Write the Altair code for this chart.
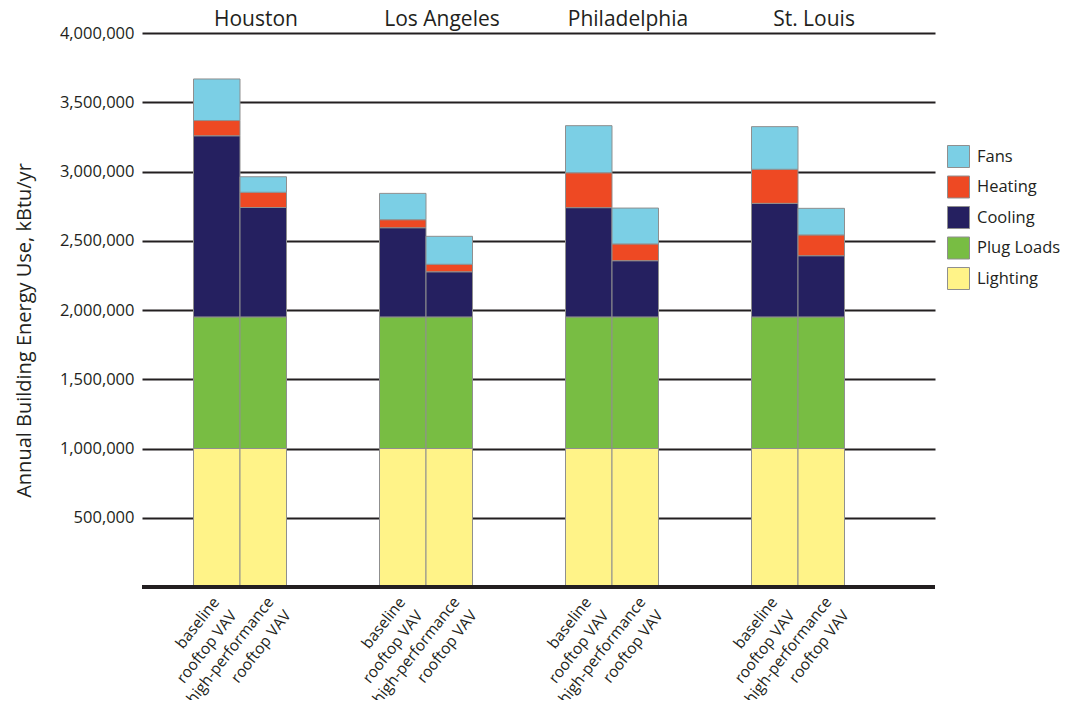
import altair as alt
import pandas as pd

cities = ["Houston", "Los Angeles", "Philadelphia", "St. Louis"]
configs = ["baseline", "high-performance"]
config_labels = ["baseline\nrooftop VAV", "high-performance\nrooftop VAV"]

categories = ["Fans", "Heating", "Cooling", "Plug Loads", "Lighting"]
colors = ["#7bcfe5", "#ee4923", "#252060", "#78bd43", "#fff388"]

# per bar, ordered: city x (baseline, high-performance)
lighting = [1000000, 1000000, 1000000, 1000000, 1000000, 1000000, 1000000, 1000000]
plug_loads = [950000, 950000, 950000, 950000, 950000, 950000, 950000, 950000]
cooling = [1308000, 790000, 644000, 326000, 789000, 406000, 820000, 442000]
heating = [110000, 110000, 58000, 54000, 252000, 121000, 246000, 150000]
fans = [300000, 112000, 190000, 202000, 340000, 259000, 308000, 192000]

series = {"Lighting": lighting, "Plug Loads": plug_loads, "Cooling": cooling,
          "Heating": heating, "Fans": fans}
stack_order = {"Lighting": 0, "Plug Loads": 1, "Cooling": 2, "Heating": 3, "Fans": 4}

rows = []
for cat, vals in series.items():
    i = 0
    for c in cities:
        for cf in configs:
            rows.append({"city": c, "config": cf, "category": cat,
                         "value": vals[i], "ord": stack_order[cat]})
            i += 1
df = pd.DataFrame(rows)

lab_rows = []
for c in cities:
    for cf, lab in zip(configs, config_labels):
        lab_rows.append({"city": c, "config": cf, "label": lab, "zero": 0})
labels_df = pd.DataFrame(lab_rows)

FONT = "Open Sans"
TXT = "#231f20"

x_enc = alt.X("city:N", sort=cities, title=None,
              scale=alt.Scale(paddingInner=0.5, paddingOuter=0.3817, align=0.3627),
              axis=alt.Axis(orient="top", ticks=False, domain=False, grid=False,
                            labelFontSize=21, labelFont=FONT, labelColor=TXT,
                            labelAngle=0, labelBaseline="alphabetic", labelPadding=8,
                            labelOffset=16))
xo_enc = alt.XOffset("config:N", sort=configs,
                     scale=alt.Scale(paddingInner=0, paddingOuter=0))

bars = alt.Chart(df).mark_bar(stroke="#8f8f8f", strokeWidth=1).encode(
    x=x_enc,
    xOffset=xo_enc,
    y=alt.Y("sum(value):Q", stack="zero",
            scale=alt.Scale(domain=[0, 4000000], nice=False),
            axis=alt.Axis(values=[500000, 1000000, 1500000, 2000000, 2500000,
                                  3000000, 3500000, 4000000],
                          format=",.0f", ticks=False, domain=False, grid=True,
                          gridColor=TXT, gridWidth=2, labelFontSize=16.5,
                          labelFont=FONT, labelColor=TXT, labelPadding=8,
                          title="Annual Building Energy Use, kBtu/yr",
                          titleFontSize=20, titleFont=FONT, titleColor=TXT,
                          titleFontWeight="normal", titleAngle=270,
                          titleX=-118, titleY=297, titleBaseline="middle",
                          titleAlign="center")),
    color=alt.Color("category:N", scale=alt.Scale(domain=categories, range=colors),
                    legend=alt.Legend(title=None, orient="none", legendX=805,
                                      legendY=112, symbolType="square",
                                      symbolSize=484, symbolStrokeColor="#8f8f8f",
                                      symbolStrokeWidth=1, labelFontSize=16.5,
                                      labelFont=FONT, labelColor=TXT,
                                      labelOffset=7, rowPadding=3.5)),
    order=alt.Order("ord:Q", sort="ascending"),
)

baseline = alt.Chart(labels_df).mark_rule(color=TXT, strokeWidth=3).encode(
    y=alt.Y("zero:Q", axis=None)
)


def label_layer(cfg, dx, dy):
    return alt.Chart(labels_df).transform_filter(
        alt.datum.config == cfg
    ).mark_text(
        angle=308, align="right", baseline="top", lineBreak="\n", lineHeight=22,
        fontSize=15.5, font=FONT, color=TXT, dx=dx, dy=dy
    ).encode(
        x=alt.X("city:N", sort=cities, axis=None),
        xOffset=alt.XOffset("config:N", sort=configs),
        y=alt.Y("zero:Q", axis=None),
        text="label:N",
    )


texts1 = label_layer("baseline", -10, 0)
texts2 = label_layer("high-performance", -5, 6)

chart = alt.layer(bars, baseline, texts1, texts2).resolve_axis(
    x="independent", y="independent"
).properties(
    width=793, height=554,
    background="white",
    autosize=alt.AutoSizeParams(type="none"),
    padding={"left": 134, "top": 25, "right": 128, "bottom": 113},
).configure_view(stroke="transparent", strokeWidth=0)

chart.save("out.html", embed_options={"renderer": "svg", "actions": False})
